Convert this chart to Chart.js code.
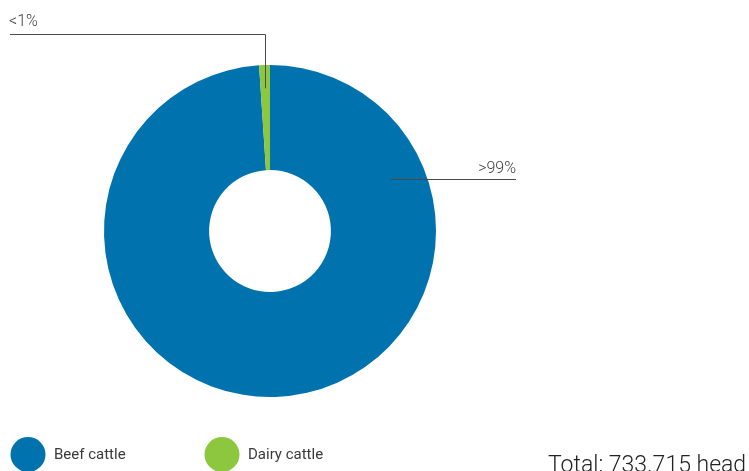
<!DOCTYPE html>
<html>
<head>
<meta charset="utf-8">
<script src="https://cdn.jsdelivr.net/npm/chart.js@4/dist/chart.umd.min.js"></script>
<style>
  html, body { margin: 0; padding: 0; background: #fff; }
  #wrap { position: relative; width: 749px; height: 471px; overflow: hidden; }
</style>
</head>
<body>
<div id="wrap"><canvas id="cattleChart" width="749" height="471"></canvas></div>
<script>
// Cattle herd by type (share of total, %)
const categories = ['Beef cattle', 'Dairy cattle'];
const shares = [98.95, 1.05];
const shareLabels = ['>99%', '<1%'];
const colors = ['#0072ae', '#8dc63f'];
const totalText = 'Total: 733.715 head';

const textFont = '"Roboto", "DejaVu Sans", sans-serif';

// draws leader lines, value labels, the legend row and the total
const annotations = {
    id: 'annotations',
    afterDraw(chart) {
        const ctx = chart.ctx;
        const meta = chart.getDatasetMeta(0);
        const beef = meta.data[0];
        const dairy = meta.data[1];
        const cx = beef.x, cy = beef.y, r = beef.outerRadius;

        ctx.save();
        ctx.lineWidth = 1;
        ctx.strokeStyle = '#4a4a4a';
        ctx.fillStyle = '#3e3e3e';
        ctx.font = '300 16px ' + textFont;
        ctx.textBaseline = 'alphabetic';

        // small slice: vertical line from inside the slice up, then left
        const midD = (dairy.startAngle + dairy.endAngle) / 2;
        const px = cx + Math.cos(midD) * r * 0.86;
        const py = cy + Math.sin(midD) * r * 0.86;
        const lineY = cy - r - 31;
        ctx.beginPath();
        ctx.moveTo(Math.round(px) + 0.5, py);
        ctx.lineTo(Math.round(px) + 0.5, lineY + 0.5);
        ctx.lineTo(10, lineY + 0.5);
        ctx.stroke();
        ctx.textAlign = 'left';
        ctx.fillText(shareLabels[1], 9, lineY - 8);

        // big slice: horizontal line to the right
        const a = -Math.PI / 2 + 66.6 * Math.PI / 180;
        const bx = cx + Math.cos(a) * r * 0.79;
        const by = Math.round(cy + Math.sin(a) * r * 0.79) + 0.5;
        ctx.beginPath();
        ctx.moveTo(bx, by);
        ctx.lineTo(cx + r + 80, by);
        ctx.stroke();
        ctx.textAlign = 'right';
        ctx.fillText(shareLabels[0], cx + r + 80, by - 7);

        // legend
        const legendX = [28, 222];
        const legendY = 454.5;
        ctx.textAlign = 'left';
        ctx.textBaseline = 'middle';
        categories.forEach((name, i) => {
            ctx.beginPath();
            ctx.fillStyle = colors[i];
            ctx.arc(legendX[i], legendY, 17.5, 0, Math.PI * 2);
            ctx.fill();
            ctx.fillStyle = '#3a3a3a';
            ctx.font = '15px ' + textFont;
            ctx.fillText(name, legendX[i] + 26, legendY + 1);
        });

        // total
        ctx.font = '300 23px ' + textFont;
        ctx.textBaseline = 'alphabetic';
        ctx.fillStyle = '#222';
        ctx.fillText(totalText, 548, 472);
        ctx.restore();
    }
};

new Chart(document.getElementById('cattleChart'), {
    type: 'doughnut',
    data: {
        labels: categories,
        datasets: [{
            data: shares,
            backgroundColor: colors,
            borderWidth: 0
        }]
    },
    options: {
        responsive: false,
        animation: false,
        cutout: '36.7%',
        layout: { padding: { left: 104, top: 65, right: 313, bottom: 74 } },
        plugins: {
            legend: { display: false },
            tooltip: { enabled: false }
        }
    },
    plugins: [annotations]
});
</script>
</body>
</html>
